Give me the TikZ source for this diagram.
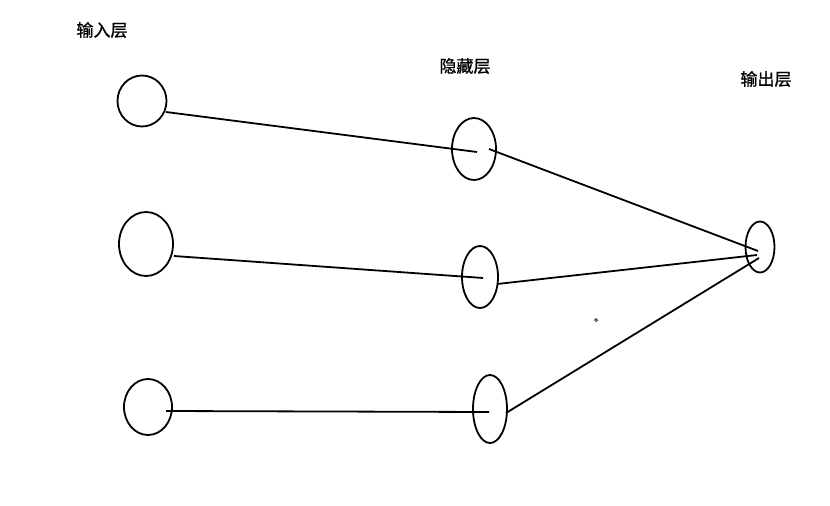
\documentclass[tikz,border=0pt]{standalone}
\usepackage{fontspec}
\usetikzlibrary{shapes.geometric,calc}
\newfontfamily\cjk[FakeBold=1]{Noto Sans CJK SC}
\tikzset{
  neuron/.style={ellipse,draw=black,line width=1.8pt,inner sep=0pt,fill=white},
  wire/.style={draw=black,line width=1.8pt},
  layer/.style={font=\cjk\fontsize{17}{19}\selectfont,inner sep=0pt},
}
\begin{document}
\begin{tikzpicture}[x=1pt,y=-1pt]
\useasboundingbox[fill=white] (0,0) rectangle (830,506);

% ---- layer titles ----
\node[layer] (tin)  at (102,30) {输入层};
\node[layer] (thid) at (465,66) {隐藏层};
\node[layer] (tout) at (766,79) {输出层};

% ---- input layer ----
\node[neuron,minimum width=49pt,minimum height=51pt] (i1) at (142,101) {};
\node[neuron,minimum width=54pt,minimum height=64pt] (i2) at (146,244) {};
\node[neuron,minimum width=48pt,minimum height=56pt] (i3) at (148,407) {};

% ---- hidden layer ----
\node[neuron,minimum width=44pt,minimum height=62pt] (h1) at (474,149) {};
\node[neuron,minimum width=36pt,minimum height=62pt] (h2) at (480,277) {};
\node[neuron,minimum width=34pt,minimum height=68pt] (h3) at (490,409) {};

% ---- output layer ----
\node[neuron,minimum width=29pt,minimum height=51pt] (o1) at (760,247) {};

% ---- input -> hidden ----
\draw[wire] ($(i1)+(24,11)$) -- ($(h1)+(3,3)$);
\draw[wire] ($(i2)+(28,12)$) -- ($(h2)+(3,1)$);
\draw[wire] ($(i3)+(18,4)$)  -- ($(h3)+(-1,3)$);

% ---- hidden -> output ----
\draw[wire] ($(h1)+(15,0)$) -- ($(o1)+(-2,4)$);
\draw[wire] ($(h2)+(17,7)$) -- ($(o1)+(-3,8)$);
\draw[wire] ($(h3)+(16,4)$) -- ($(o1)+(-1,11)$);

% stray dot
\node[circle,draw=black,line width=0.7pt,minimum size=3pt,inner sep=0pt] (dot) at (596,320) {};

\end{tikzpicture}
\end{document}
